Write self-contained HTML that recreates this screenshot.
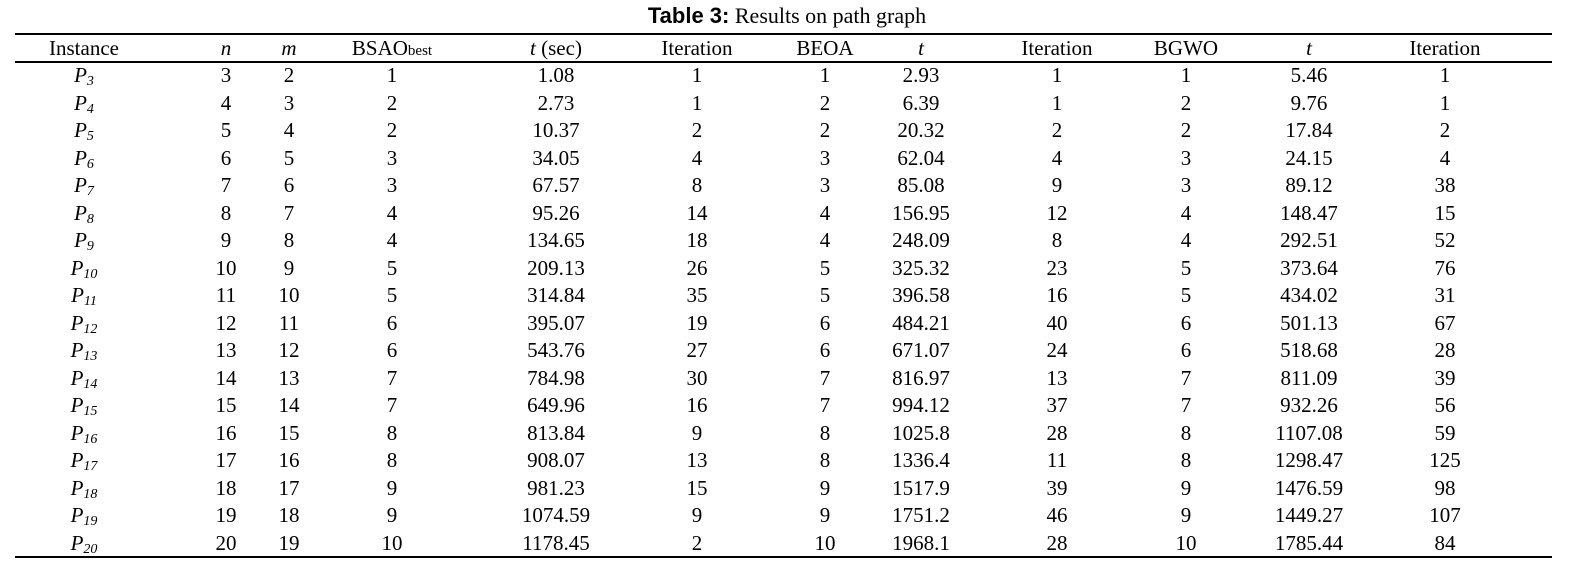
<!DOCTYPE html><html><head><meta charset="utf-8"><style>
body{margin:0;width:1574px;height:579px;background:#fff;position:relative;font-family:"Liberation Serif",serif;font-size:21px;color:#000;overflow:hidden}
.t{position:absolute;left:0;width:1574px;top:3px;text-align:center;font-size:22px}
.l{position:absolute;left:15px;width:1537px;height:2px;background:#000}
.c{position:absolute;transform:translateX(-50%);white-space:nowrap;line-height:24px}
sub{font-size:14px;vertical-align:-3px;line-height:0}
.s{font-size:15px}
</style></head><body>
<div class="t"><b style="font-family:'Liberation Sans',sans-serif">Table 3:</b> Results on path graph</div>
<div class="l" style="top:33px"></div><div class="l" style="top:61px"></div><div class="l" style="top:556px"></div>
<div id="g"></div>
<script>
const X=[84,226,289,392,556,697,825,921,1057,1186,1309,1445];
const H=['Instance','<i>n</i>','<i>m</i>','BSAO<span class="s">best</span>','<i>t</i> (sec)','Iteration','BEOA','<i>t</i>','Iteration','BGWO','<i>t</i>','Iteration'];
const D=`3 2 1 1.08 1 1 2.93 1 1 5.46 1
4 3 2 2.73 1 2 6.39 1 2 9.76 1
5 4 2 10.37 2 2 20.32 2 2 17.84 2
6 5 3 34.05 4 3 62.04 4 3 24.15 4
7 6 3 67.57 8 3 85.08 9 3 89.12 38
8 7 4 95.26 14 4 156.95 12 4 148.47 15
9 8 4 134.65 18 4 248.09 8 4 292.51 52
10 9 5 209.13 26 5 325.32 23 5 373.64 76
11 10 5 314.84 35 5 396.58 16 5 434.02 31
12 11 6 395.07 19 6 484.21 40 6 501.13 67
13 12 6 543.76 27 6 671.07 24 6 518.68 28
14 13 7 784.98 30 7 816.97 13 7 811.09 39
15 14 7 649.96 16 7 994.12 37 7 932.26 56
16 15 8 813.84 9 8 1025.8 28 8 1107.08 59
17 16 8 908.07 13 8 1336.4 11 8 1298.47 125
18 17 9 981.23 15 9 1517.9 39 9 1476.59 98
19 18 9 1074.59 9 9 1751.2 46 9 1449.27 107
20 19 10 1178.45 2 10 1968.1 28 10 1785.44 84`.split('\n').map(r=>r.split(' '));
let h='';
H.forEach((t,i)=>h+=`<div class="c" style="left:${X[i]}px;top:36px">${t}</div>`);
D.forEach((r,j)=>{const y=63+j*27.5;
h+=`<div class="c" style="left:${X[0]}px;top:${y}px"><i>P<sub>${r[0]}</sub></i></div>`;
r.forEach((v,i)=>h+=`<div class="c" style="left:${X[i+1]}px;top:${y}px">${v}</div>`);});
document.getElementById('g').innerHTML=h;
</script>
</body></html>
